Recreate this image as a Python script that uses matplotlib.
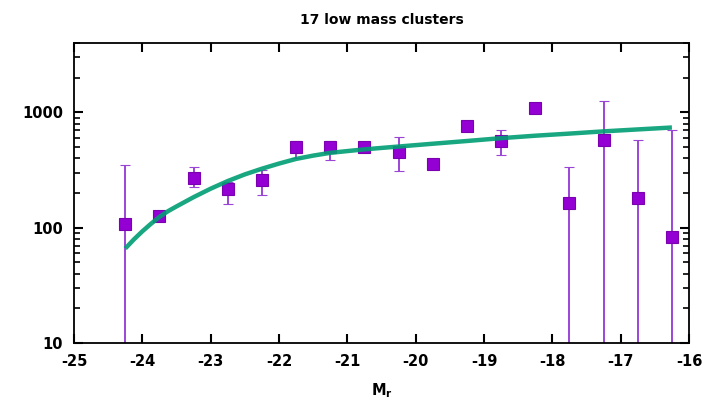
import matplotlib
matplotlib.use("Agg")
import matplotlib.pyplot as plt
from matplotlib.ticker import LogLocator, NullFormatter, FixedLocator

plt.rcParams['font.family'] = ['DejaVu Sans']
plt.rcParams['axes.unicode_minus'] = False

# Data: binned points (M_r bins) with asymmetric error bars
mag = [-24.25, -23.75, -23.25, -22.75, -22.25, -21.75, -21.25, -20.75, -20.25,
       -19.75, -19.25, -18.75, -18.25, -17.75, -17.25, -16.75, -16.25]
val = [108, 127, 270, 218, 260, 500, 500, 500, 450,
       360, 760, 560, 1100, 165, 582, 182, 83]
err_low_end = [1, 120, 225, 162, 194, 406, 390, 480, 313,
               345, 740, 423, 1080, 1, 1, 1, 1]
err_high_end = [350, 135, 333, 250, 319, 560, 560, 520, 607,
                375, 780, 697, 1120, 333, 1250, 571, 710]

# Fitted curve
fit_mag = [-24.25, -24.125, -24.0, -23.875, -23.75, -23.625, -23.5, -23.25,
           -23.0, -22.75, -22.5, -22.25, -22.0, -21.75, -21.5, -21.25, -21.0,
           -20.75, -20.5, -20.25, -19.75, -19.25, -18.75, -18.25, -17.75,
           -17.25, -16.75, -16.25]
fit_val = [66, 79, 93, 108, 124, 139, 153, 184,
           218, 254, 290, 325, 360, 395, 422, 446, 462,
           478, 492, 506, 535, 565, 598, 628, 655,
           685, 712, 740]

title = "17 low mass clusters"
xlabel = r"$\mathbf{M_r}$"
xticks = [-25, -24, -23, -22, -21, -20, -19, -18, -17, -16]
yticks = [10, 100, 1000]

fig = plt.figure(figsize=(7.09, 3.99), dpi=100)
ax = fig.add_axes([74/709, 1-343/399, (689-74)/709, (343-43)/399])

ylo = [v - l for v, l in zip(val, err_low_end)]
yhi = [h - v for v, h in zip(val, err_high_end)]
ax.errorbar(mag, val, yerr=[ylo, yhi], fmt='s', color='#9400d3',
            ecolor='#9a45d6', elinewidth=1.4, capsize=3.6, capthick=1.6,
            markersize=9, markeredgecolor='#7a00b0', markeredgewidth=0.8,
            zorder=2)
ax.plot(fit_mag, fit_val, color='#009e73', lw=3.2, alpha=0.9,
        solid_capstyle='butt', solid_joinstyle='round', zorder=3)

ax.set_yscale('log')
ax.set_xlim(-25, -16)
ax.set_ylim(10, 4000)
ax.xaxis.set_major_locator(FixedLocator(xticks))
ax.yaxis.set_major_locator(FixedLocator(yticks))
ax.set_xticklabels([str(t) for t in xticks])
ax.set_yticklabels([str(t) for t in yticks])
ax.yaxis.set_minor_locator(LogLocator(base=10, subs=range(2, 10)))
ax.yaxis.set_minor_formatter(NullFormatter())

ax.tick_params(axis='both', which='major', direction='in', length=6.5,
               width=1.5, top=True, right=True, labelsize=10.5, pad=8)
ax.tick_params(axis='y', which='minor', direction='in', length=4,
               width=1.2, right=True)
for lab in ax.get_xticklabels() + ax.get_yticklabels():
    lab.set_fontweight('bold')
for s in ax.spines.values():
    s.set_linewidth(1.3)

ax.set_title(title, fontsize=10, fontweight='bold', pad=14)
ax.set_xlabel(xlabel, fontsize=10.5, labelpad=9)

fig.savefig("out.png", dpi=100)
